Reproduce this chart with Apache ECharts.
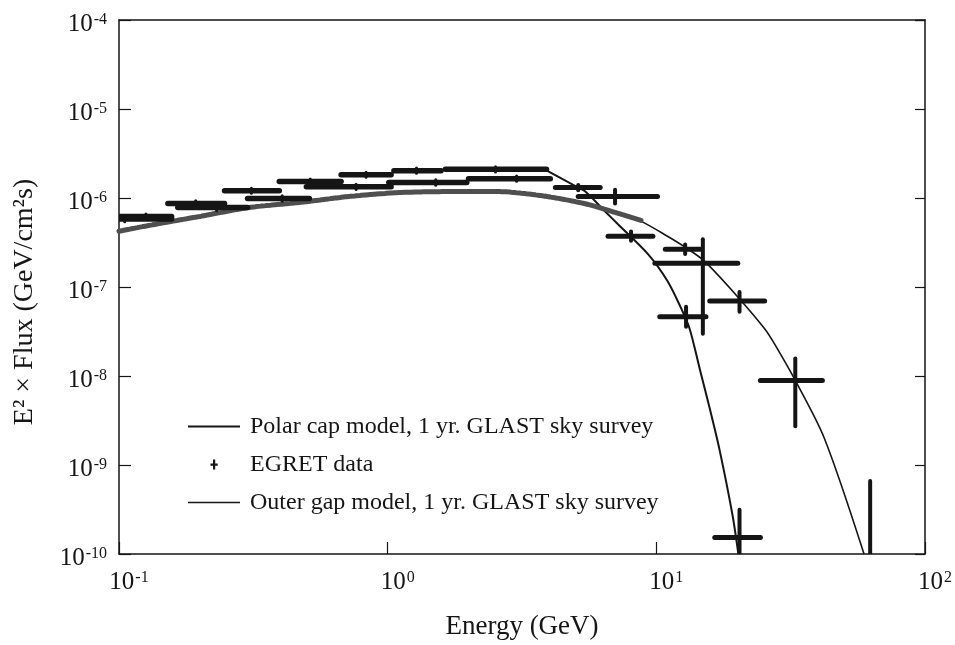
<!DOCTYPE html>
<html>
<head>
<meta charset="utf-8">
<script src="https://cdn.jsdelivr.net/npm/echarts@6/dist/echarts.min.js"></script>
<style>
  html, body { margin: 0; padding: 0; background: #fff; }
  #chart { width: 955px; height: 645px; }
</style>
</head>
<body>
<div id="chart"></div>
<script>
// energies in GeV, fluxes as E^2 x Flux in GeV/cm^2/s

// GLAST simulated spectrum, low energy (grey band of points)
const glastE = [0.1, 0.13, 0.2, 0.306, 0.469, 0.718, 1.10, 1.69, 2.59, 3.34, 4.32, 5.58, 7.02, 8.77]
const glastF = [4.23e-7, 4.93e-7, 6.21e-7, 7.83e-7, 8.9e-7, 1.04e-6, 1.15e-6, 1.18e-6, 1.18e-6, 1.11e-6, 9.9e-7, 8.45e-7, 6.89e-7, 5.6e-7]

// polar cap model curve
const polarE = [3.90, 5.12, 5.44, 6.45, 7.20, 9.31, 11.0, 12.3, 13.3, 14.5, 15.8, 17.2, 19.2, 20.2]
const polarF = [2.05e-6, 1.31e-6, 1.18e-6, 7.06e-7, 5.06e-7, 2.34e-7, 1.17e-7, 5.98e-8, 3.40e-8, 1.21e-8, 4.33e-9, 1.47e-9, 2.76e-10, 1.0e-10]

// outer gap model curve
const outerE = [0.1, 0.13, 0.2, 0.306, 0.469, 0.718, 1.10, 1.69, 2.59, 3.34, 4.32, 5.58, 7.02, 8.77, 11.0, 12.8, 15.1, 20.1, 25.3, 27.5, 32.9, 42.2, 59.3]
const outerF = [4.23e-7, 4.93e-7, 6.21e-7, 7.83e-7, 8.9e-7, 1.04e-6, 1.15e-6, 1.18e-6, 1.18e-6, 1.11e-6, 9.9e-7, 8.45e-7, 6.89e-7, 5.46e-7, 3.72e-7, 2.80e-7, 1.95e-7, 7.73e-8, 3.40e-8, 2.31e-8, 8.91e-9, 2.0e-9, 1.0e-10]

// EGRET data bins: [E, F, Elo, Ehi, Flo, Fhi]
const egretData = [
  [0.126, 6.2e-7, 0.100, 0.157, 5.8e-7, 6.6e-7],
  [0.193, 8.7e-7, 0.152, 0.247, 8.1e-7, 9.3e-7],
  [0.311, 1.21e-6, 0.247, 0.395, 1.13e-6, 1.29e-6],
  [0.515, 1.53e-6, 0.395, 0.671, 1.43e-6, 1.63e-6],
  [0.831, 1.83e-6, 0.671, 1.03, 1.71e-6, 1.95e-6],
  [1.28, 2.03e-6, 1.055, 1.58, 1.90e-6, 2.17e-6],
  [2.52, 2.10e-6, 1.64, 3.90, 1.96e-6, 2.24e-6],
  [0.105, 5.8e-7, 0.100, 0.157, 5.4e-7, 6.2e-7],
  [0.231, 7.8e-7, 0.1655, 0.301, 7.2e-7, 8.4e-7],
  [0.405, 9.9e-7, 0.301, 0.511, 9.2e-7, 1.06e-6],
  [0.763, 1.34e-6, 0.498, 1.03, 1.25e-6, 1.43e-6],
  [1.51, 1.49e-6, 1.01, 1.97, 1.39e-6, 1.60e-6],
  [3.02, 1.65e-6, 2.00, 4.03, 1.54e-6, 1.77e-6]
]

// GLAST 1 yr points at high energy: [E, F, Elo, Ehi, Flo, Fhi]
const glastHiData = [
  [5.12, 1.31e-6, 4.21, 6.18, 1.22e-6, 1.40e-6],
  [7.02, 1.04e-6, 5.12, 10.1, 8.7e-7, 1.24e-6],
  [8.05, 3.72e-7, 6.61, 9.71, 3.3e-7, 4.2e-7],
  [12.8, 2.66e-7, 10.8, 14.6, 2.35e-7, 3.0e-7],
  [14.9, 1.85e-7, 9.88, 20.1, 2.98e-8, 3.44e-7],
  [12.9, 4.62e-8, 10.3, 15.3, 3.57e-8, 5.98e-8],
  [20.4, 6.98e-8, 15.8, 25.3, 5.26e-8, 8.79e-8],
  [32.9, 8.91e-9, 24.4, 41.5, 2.73e-9, 1.57e-8],
  [20.4, 1.53e-10, 16.5, 24.4, 8.0e-11, 3.14e-10],
  [62.5, 1.0e-10, 62.5, 62.5, 8.0e-11, 6.62e-10]
]

const FONT = 'Liberation Serif'
const INK = '#151515'
const GREY = '#4f4f4f'

const NAME_POLAR = 'Polar cap model, 1 yr. GLAST sky survey'
const NAME_EGRET = 'EGRET data'
const NAME_OUTER = 'Outer gap model, 1 yr. GLAST sky survey'

const pairs = (xs, ys) => xs.map((x, i) => [x, ys[i]])

const powLabel = v => '{b|10}{s|' + Math.round(Math.log10(v)) + '}'

const labelRich = {
  b: { fontFamily: FONT, fontSize: 25, color: INK },
  s: { fontFamily: FONT, fontSize: 16, color: INK, verticalAlign: 'top', padding: [0, 0, 0, 1] }
}

const errorBars = (hw, vw, color) => (params, api) => {
  const x = api.value(0), y = api.value(1)
  const l = api.coord([api.value(2), y])
  const r = api.coord([api.value(3), y])
  const t = api.coord([x, api.value(5)])
  const b = api.coord([x, api.value(4)])
  return {
    type: 'group',
    children: [
      { type: 'line', shape: { x1: l[0], y1: l[1], x2: r[0], y2: r[1] }, style: { stroke: color, lineWidth: hw, lineCap: 'round' } },
      { type: 'line', shape: { x1: t[0], y1: t[1], x2: b[0], y2: b[1] }, style: { stroke: color, lineWidth: vw, lineCap: 'round' } }
    ]
  }
}

const baseAxis = {
  type: 'log',
  logBase: 10,
  axisLine: { show: true, onZero: false, lineStyle: { color: INK, width: 1.5 } },
  axisTick: { show: true, inside: true, length: 12, lineStyle: { color: INK, width: 1.2 } },
  minorTick: { show: false },
  splitLine: { show: false }
}

// legend icons; the two hairline corners keep the icon box at 52x14
const BOX = 'M0,0h0.01v0.01h-0.01z M51.99,13.99h0.01v0.01h-0.01z '
const plusIcon = 'path://' + BOX + 'M25,2h2.2v10h-2.2z M22.5,6h7.2v2.2h-7.2z'
const polarIcon = 'path://' + BOX + 'M0,6h52v2h-52z'
const outerIcon = 'path://' + BOX + 'M0,6.2h52v1.6h-52z'

const chart = echarts.init(document.getElementById('chart'))

chart.setOption({
  backgroundColor: '#fff',
  animation: false,
  textStyle: { fontFamily: FONT, color: INK },
  grid: { left: 119, right: 27, top: 20, bottom: 88 },
  legend: {
    orient: 'vertical',
    left: 188,
    top: 414,
    padding: 0,
    itemWidth: 52,
    itemHeight: 14,
    itemGap: 13,
    selectedMode: false,
    textStyle: { fontFamily: FONT, fontSize: 24, color: INK, lineHeight: 25, padding: [0, 0, 0, 5] },
    data: [
      { name: NAME_POLAR, icon: polarIcon, itemStyle: { color: INK } },
      { name: NAME_EGRET, icon: plusIcon, itemStyle: { color: INK } },
      { name: NAME_OUTER, icon: outerIcon, itemStyle: { color: INK } }
    ]
  },
  xAxis: [
    {
      ...baseAxis,
      min: 0.1,
      max: 100,
      name: 'Energy (GeV)',
      nameLocation: 'middle',
      nameGap: 59,
      nameTextStyle: { fontFamily: FONT, fontSize: 27, color: INK },
      axisLabel: { margin: 16, formatter: powLabel, rich: labelRich, padding: [0, 0, 0, 20] }
    },
    {
      ...baseAxis,
      position: 'top',
      min: 0.1,
      max: 100,
      axisTick: { show: false },
      axisLabel: { show: false }
    }
  ],
  yAxis: [
    {
      ...baseAxis,
      min: 1e-10,
      max: 1e-4,
      name: 'E² × Flux (GeV/cm²s)',
      nameLocation: 'middle',
      nameRotate: 90,
      nameGap: 80,
      nameTextStyle: { fontFamily: FONT, fontSize: 28, color: INK, padding: [0, 30, 0, 0] },
      axisLabel: { margin: 12, formatter: powLabel, rich: labelRich, padding: [8, 0, 0, 0] }
    },
    {
      ...baseAxis,
      position: 'right',
      min: 1e-10,
      max: 1e-4,
      axisTick: { ...baseAxis.axisTick, length: 10 },
      axisLabel: { show: false }
    }
  ],
  series: [
    {
      name: 'GLAST simulated data',
      type: 'line',
      data: pairs(glastE, glastF),
      symbol: 'none',
      smooth: 0.3,
      lineStyle: { color: GREY, width: 5, type: [4, 1], cap: 'round' },
      z: 3
    },
    {
      name: NAME_OUTER,
      type: 'line',
      data: pairs(outerE, outerF),
      symbol: 'none',
      smooth: 0.3,
      clip: true,
      color: INK,
      lineStyle: { color: INK, width: 1.6 },
      z: 2
    },
    {
      name: NAME_POLAR,
      type: 'line',
      data: pairs(polarE, polarF),
      symbol: 'none',
      smooth: 0.3,
      clip: true,
      color: INK,
      lineStyle: { color: INK, width: 2 },
      z: 2
    },
    {
      name: NAME_EGRET,
      type: 'custom',
      data: egretData,
      encode: { x: 0, y: 1 },
      clip: true,
      itemStyle: { color: INK },
      renderItem: errorBars(5.5, 3, INK),
      z: 4
    },
    {
      name: 'GLAST 1 yr points',
      type: 'custom',
      data: glastHiData,
      encode: { x: 0, y: 1 },
      clip: true,
      renderItem: errorBars(5, 4, INK),
      z: 4
    }
  ]
})
</script>
</body>
</html>
